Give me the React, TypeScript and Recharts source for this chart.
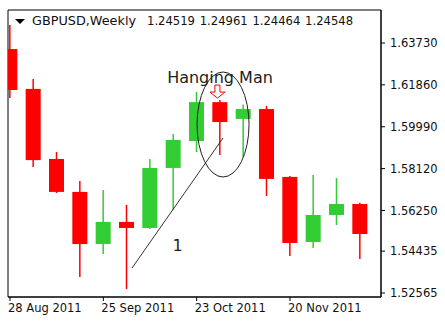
import React from 'react';
import {
  ComposedChart,
  Bar,
  XAxis,
  YAxis,
  ReferenceArea,
  ReferenceLine,
  ReferenceDot,
  Customized,
} from 'recharts';

// weekly GBPUSD candles
const opens = [1.6346, 1.6168, 1.5855, 1.5708, 1.5475, 1.5574, 1.5547, 1.5815, 1.5935, 1.6109, 1.6034, 1.6078, 1.5775, 1.5484, 1.5605, 1.5654];
const highs = [1.6453, 1.6212, 1.5886, 1.5757, 1.5716, 1.5650, 1.5855, 1.5967, 1.6154, 1.6118, 1.6098, 1.6092, 1.5779, 1.5784, 1.5770, 1.5659];
const lows = [1.6127, 1.5819, 1.5703, 1.5328, 1.5431, 1.5274, 1.5542, 1.5627, 1.5886, 1.5873, 1.5864, 1.5690, 1.5422, 1.5457, 1.5560, 1.5408];
const closes = [1.6163, 1.5850, 1.5708, 1.5475, 1.5574, 1.5547, 1.5815, 1.5940, 1.6109, 1.6020, 1.6078, 1.5766, 1.5480, 1.5605, 1.5654, 1.5520];

const dateTicks = [0, 4, 8, 12];
const dateLabels = ['28 Aug 2011', '25 Sep 2011', '23 Oct 2011', '20 Nov 2011'];
const priceTicks = [1.52565, 1.54435, 1.5625, 1.5812, 1.5999, 1.6186, 1.6373];
const quote = ['1.24519', '1.24961', '1.24464', '1.24548'];

const UP = '#32cd32';
const DOWN = '#ff0000';
const FONT = 'DejaVu Sans, Verdana, sans-serif';

const rows = opens.map((o, i) => ({
  i,
  open: o,
  high: highs[i],
  low: lows[i],
  close: closes[i],
  range: [lows[i], highs[i]],
}));

const Candle = (props: any) => {
  const { x, y, width, height, payload } = props;
  const { open, close, high, low } = payload;
  const color = close >= open ? UP : DOWN;
  const ppu = height / (high - low);
  const top = y + (high - Math.max(open, close)) * ppu;
  const bot = y + (high - Math.min(open, close)) * ppu;
  const cx = x + width / 2;
  return (
    <g>
      <line x1={cx} x2={cx} y1={y} y2={y + height} stroke={color} strokeWidth={1.5} />
      <rect x={x} y={top} width={width} height={Math.max(bot - top, 1)} fill={color} />
    </g>
  );
};

const DateTick = (props: any) => {
  const { x, y, payload } = props;
  const idx = dateTicks.indexOf(payload.value);
  return (
    <text x={x - 2} y={y + 9} textAnchor="start" fontSize={11.5} fontFamily={FONT} fill="#111">
      {dateLabels[idx]}
    </text>
  );
};

const Title = () => (
  <g fontFamily={FONT} fill="#111">
    <path d="M15 19 L25 19 L20 24 Z" fill="#000" />
    <text x={32} y={25} fontSize={12.8}>GBPUSD,Weekly</text>
    {quote.map((q, k) => (
      <text key={q} x={147 + k * 52.7} y={25} fontSize={11.6}>{q}</text>
    ))}
  </g>
);

export default function App() {
  return (
    <div style={{ position: 'absolute', left: 0, top: 0, background: '#fff' }}>
      <ComposedChart
        width={445}
        height={326}
        data={rows}
        margin={{ top: 10, right: 4, bottom: 4, left: 8 }}
      >
        <XAxis
          type="number"
          dataKey="i"
          domain={[-0.0857, 15.9]}
          allowDataOverflow
          ticks={dateTicks}
          tick={<DateTick />}
          tickSize={4}
          height={25}
          stroke="#000"
        />
        <YAxis
          orientation="right"
          type="number"
          domain={[1.52386, 1.65204]}
          allowDataOverflow
          ticks={priceTicks}
          tickFormatter={(v: number) => v.toFixed(5)}
          tick={{ fontSize: 11.5, fontFamily: FONT, fill: '#111', textAnchor: 'start' }}
          tickSize={4}
          tickMargin={5}
          width={60}
          stroke="#000"
        />
        <ReferenceArea
          x1={-0.0857}
          x2={15.9}
          y1={1.52386}
          y2={1.65204}
          fill="none"
          stroke="#000"
          ifOverflow="extendDomain"
        />
        <Bar dataKey="range" barSize={15} shape={<Candle />} isAnimationActive={false} />
        <ReferenceLine
          segment={[{ x: 5.23, y: 1.5368 }, { x: 9.13, y: 1.5949 }]}
          stroke="#333"
          strokeWidth={1}
        />
        <ReferenceDot
          x={9.13}
          y={1.6009}
          shape={(p: any) => (
            <ellipse cx={p.cx} cy={p.cy} rx={26} ry={52.5} fill="none" stroke="#222" strokeWidth={1} />
          )}
        />
        <ReferenceDot
          x={8.89}
          y={1.6156}
          shape={(p: any) => (
            <path
              d={`M${p.cx - 2.5} ${p.cy - 6.5} L${p.cx + 2.5} ${p.cy - 6.5} L${p.cx + 2.5} ${p.cy + 0.5} L${p.cx + 7.5} ${p.cy + 0.5} L${p.cx} ${p.cy + 6.5} L${p.cx - 7.5} ${p.cy + 0.5} L${p.cx - 2.5} ${p.cy + 0.5} Z`}
              fill="#fff"
              stroke={DOWN}
              strokeWidth={1}
            />
          )}
        />
        <ReferenceDot
          x={9}
          y={1.6221}
          shape={(p: any) => (
            <text x={p.cx} y={p.cy + 6} textAnchor="middle" fontSize={16} fontFamily={FONT} fill="#222">
              Hanging Man
            </text>
          )}
        />
        <ReferenceDot
          x={7.18}
          y={1.5471}
          shape={(p: any) => (
            <text x={p.cx} y={p.cy + 6} textAnchor="middle" fontSize={16} fontFamily={FONT} fill="#222">
              1
            </text>
          )}
        />
        <Customized component={Title} />
      </ComposedChart>
    </div>
  );
}
